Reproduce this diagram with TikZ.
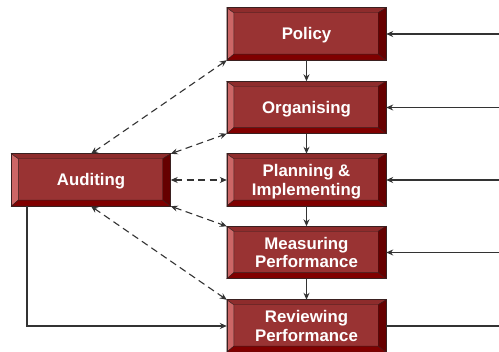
\documentclass[tikz,border=0pt]{standalone}
\usepackage{fontspec}
\setmainfont{Liberation Sans}
\usetikzlibrary{calc,arrows.meta}
\definecolor{face}{HTML}{993333}
\definecolor{lbev}{HTML}{CC6666}
\definecolor{tbev}{HTML}{8E2C2C}
\definecolor{rbev}{HTML}{660000}
\definecolor{bbev}{HTML}{800000}
\definecolor{edgec}{HTML}{3A2020}
\definecolor{connc}{HTML}{333333}
\tikzset{
 boxface/.style={fill=face, minimum width=159pt, minimum height=52pt, inner sep=0pt,
   text=white, font=\fontsize{16.8}{18.5}\selectfont\bfseries, align=center,
   text height=12pt, text depth=0pt},
 twoline/.style={text height=30.5pt, text depth=0pt},
 bev/.style={draw=edgec, line width=0.4pt},
 conn/.style={draw=connc, line width=1.1pt},
 arr/.style={conn, -{Stealth[length=7pt,width=6pt]}},
 darr/.style={conn, dash pattern=on 7pt off 4.5pt,
   {Stealth[length=7pt,width=6pt]}-{Stealth[length=7pt,width=6pt]}},
}
\newcommand\bevbox[5][]{%
 \node[boxface,#1] (#2) at (#3,#4) {#5};
 \path[bev,fill=tbev] (#2.north west) -- (#2.north east) -- ($(#2.north east)+(-8,5)$) -- ($(#2.north west)+(7,5)$) -- cycle;
 \path[bev,fill=lbev] (#2.north west) -- (#2.south west) -- ($(#2.south west)+(7,-6)$) -- ($(#2.north west)+(7,5)$) -- cycle;
 \path[bev,fill=rbev] (#2.north east) -- (#2.south east) -- ($(#2.south east)+(-8,-6)$) -- ($(#2.north east)+(-8,5)$) -- cycle;
 \path[bev,fill=bbev] (#2.south west) -- (#2.south east) -- ($(#2.south east)+(-8,-6)$) -- ($(#2.south west)+(7,-6)$) -- cycle;
 \draw[draw=edgec, line width=0.6pt] (#2.north west) rectangle (#2.south east);
}
\begin{document}
\begin{tikzpicture}[x=1pt,y=-1pt]
\useasboundingbox (0,0) rectangle (499,352);
\bevbox{pol}{306.5}{34}{Policy}
\bevbox{org}{306.5}{107.5}{Organising}
\bevbox[twoline]{pla}{306.5}{180}{Planning \&\\Implementing}
\bevbox[twoline]{mea}{306.5}{252.5}{Measuring\\Performance}
\bevbox[twoline]{rev}{306.5}{326}{Reviewing\\Performance}
\bevbox{aud}{91}{180}{Auditing}
\coordinate (inP) at (499,34);
\coordinate (inO) at (499,107.5);
\coordinate (inL) at (499,180);
\coordinate (inM) at (499,252.5);
\coordinate (outR) at (499,326);
\coordinate (aS) at (27,206);
\draw[arr] (pol) -- (org);
\draw[arr] (org) -- (pla);
\draw[arr] (pla) -- (mea);
\draw[arr] (mea) -- (rev);
\draw[arr] (inP) -- (pol);
\draw[arr] (inO) -- (org);
\draw[arr] (inL) -- (pla);
\draw[arr] (inM) -- (mea);
\draw[conn] (rev) -- (outR);
\draw[arr] (aS) |- (rev.west);
\draw[darr] (aud.north) -- (pol.south west);
\draw[darr] (aud.north east) -- (org.south west);
\draw[darr] (aud.east) -- (pla.west);
\draw[darr] (aud.south east) -- (mea.north west);
\draw[darr] (aud.south) -- (rev.north west);
\end{tikzpicture}
\end{document}
